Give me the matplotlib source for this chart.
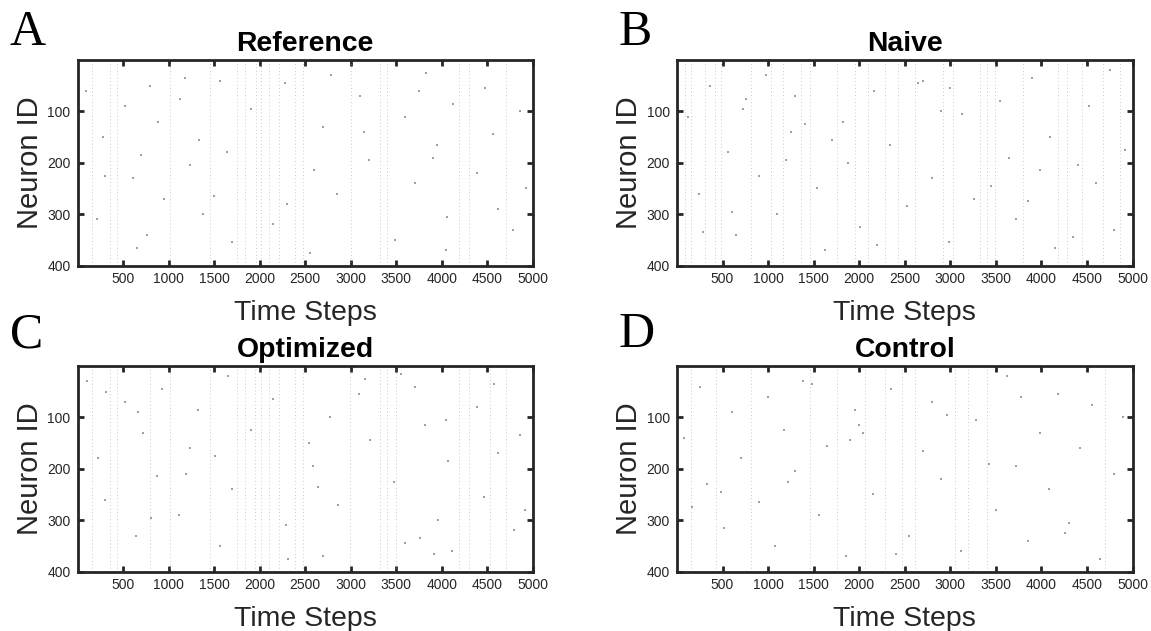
import matplotlib
matplotlib.use("Agg")
import matplotlib.pyplot as plt

plt.rcParams['font.family'] = ['Liberation Sans', 'DejaVu Sans']

titles = ["Reference", "Naive", "Optimized", "Control"]
letters = ["A", "B", "C", "D"]
x_ticks = [500, 1000, 1500, 2000, 2500, 3000, 3500, 4000, 4500, 5000]
y_ticks = [100, 200, 300, 400]

# time steps of the synchronous columns
bands_a = [157, 359, 432, 1018, 1450, 1751, 1842, 1963, 2018, 2099, 2209, 2392, 2473,
           3007, 3326, 3399, 4187, 4297, 4700, 4993]
bands_b = [84, 157, 304, 414, 487, 817, 1037, 1165, 1359, 1458, 1751, 1952, 2099, 2282,
           2421, 2612, 2923, 3033, 3326, 3399, 3491, 3802, 4187, 4279, 4443, 4681, 4864]
bands_c = [157, 359, 432, 799, 1018, 1450, 1751, 1842, 1952, 2018, 2099, 2209, 2392, 2473,
           2996, 3326, 3399, 3491, 4187, 4297, 4528, 4700, 4993]
bands_d = [157, 432, 817, 1458, 1751, 2062, 2282, 2473, 2612, 3051, 3190, 3399, 4700]

# the darker single spikes, estimated by eye (the faint ones can't be read one by one)
spike_t_a = [90, 210, 280, 520, 610, 700, 760, 880, 950, 1120, 1240, 1330, 1380, 1560, 1640,
             1700, 1900, 2150, 2280, 2600, 2700, 2780, 2850, 3100, 3200, 3480, 3600, 3700,
             3820, 3950, 4060, 4120, 4380, 4470, 4560, 4620, 4780, 4860, 4920, 650, 1180,
             2300, 2550, 3150, 3750, 4050, 300, 800, 1500, 3900]
spike_id_a = [60, 310, 150, 90, 230, 185, 340, 120, 270, 75, 205, 155, 300, 40, 180, 355, 95,
              320, 45, 215, 130, 30, 260, 70, 195, 350, 110, 240, 25, 165, 305, 85, 220, 55,
              145, 290, 330, 100, 250, 365, 35, 280, 375, 140, 60, 370, 225, 50, 265, 190]
spike_t_b = [120, 240, 360, 560, 650, 720, 900, 980, 1100, 1250, 1300, 1540, 1620, 1820, 1880,
             2010, 2160, 2340, 2520, 2700, 2800, 2990, 3130, 3260, 3550, 3640, 3720, 3900, 3980,
             4090, 4350, 4520, 4600, 4750, 4920, 600, 1400, 2200, 3000, 3850, 4400, 4800, 760,
             1700, 2650, 3450, 4150, 280, 1200, 2900]
spike_id_b = [110, 260, 50, 180, 340, 95, 225, 30, 300, 140, 70, 250, 370, 120, 200, 325, 60,
              165, 285, 40, 230, 355, 105, 270, 80, 190, 310, 35, 215, 150, 345, 90, 240, 20, 175,
              295, 125, 360, 55, 275, 205, 330, 75, 155, 45, 245, 365, 335, 195, 100]
spike_t_c = [100, 230, 300, 520, 640, 720, 870, 930, 1110, 1230, 1320, 1560, 1650, 1700, 1900,
             2150, 2290, 2580, 2690, 2770, 2860, 3090, 3210, 3470, 3590, 3700, 3810, 3960, 4070,
             4110, 4390, 4460, 4570, 4620, 4790, 4860, 4910, 660, 1190, 2310, 2540, 3160, 3760,
             4040, 310, 810, 1510, 3910, 2640, 3550]
spike_id_c = [30, 180, 260, 70, 330, 130, 215, 45, 290, 160, 85, 350, 20, 240, 125, 65, 310,
              195, 370, 100, 270, 55, 145, 225, 345, 40, 115, 300, 185, 360, 80, 255, 35, 170,
              320, 135, 280, 90, 210, 375, 150, 25, 335, 105, 50, 295, 175, 365, 235, 15]
spike_t_d = [80, 250, 330, 520, 600, 700, 900, 1000, 1080, 1180, 1300, 1380, 1560, 1650, 1850,
             1950, 2000, 2150, 2350, 2550, 2700, 2800, 2900, 3120, 3280, 3500, 3620, 3720, 3850,
             3980, 4080, 4180, 4300, 4420, 4550, 4640, 4800, 4900, 4960, 480, 1480, 1900, 2400,
             2960, 3420, 4260, 170, 1220, 2040, 3780]
spike_id_d = [140, 40, 230, 315, 90, 180, 265, 60, 350, 125, 205, 30, 290, 155, 370, 85, 115,
              250, 45, 330, 165, 70, 220, 360, 105, 280, 20, 195, 340, 130, 240, 55, 305, 160,
              75, 375, 210, 100, 300, 245, 35, 145, 365, 95, 190, 325, 275, 225, 130, 60]

bands = [bands_a, bands_b, bands_c, bands_d]
spike_t = [spike_t_a, spike_t_b, spike_t_c, spike_t_d]
spike_id = [spike_id_a, spike_id_b, spike_id_c, spike_id_d]

W, H = 1151, 631
lefts = [77.5, 677, 77.5, 677]
tops = [60, 60, 366, 366]
ax_w, ax_h = 455.5, 205.5
letter_x = [10, 619, 10, 619]
letter_y = [45, 45, 347, 347]
dark = '#262626'

fig = plt.figure(figsize=(W / 100, H / 100), dpi=100)

for i in range(4):
    ax = fig.add_axes([lefts[i] / W, 1 - (tops[i] + ax_h) / H, ax_w / W, ax_h / H])
    ax.vlines(bands[i], 0, 400, colors='#999999', linewidth=0.5, linestyles=(0, (1, 4)))
    ax.scatter(spike_t[i], spike_id[i], s=1.5, c='#a0a0a0', linewidths=0, marker='s')
    ax.set_xlim(0, 5000)
    ax.set_ylim(400, 0)
    ax.set_xticks(x_ticks)
    ax.set_yticks(y_ticks)
    ax.tick_params(direction='in', top=True, right=True, length=4, width=2,
                   labelsize=10, labelcolor=dark, color=dark, pad=5)
    for s in ax.spines.values():
        s.set_linewidth(2)
        s.set_color(dark)
    ax.set_title(titles[i], fontsize=20.4, fontweight='bold', color='black', pad=6.5)
    ax.set_xlabel("Time Steps", fontsize=20.5, color=dark, labelpad=9.5)
    ax.set_ylabel("Neuron ID", fontsize=21, color=dark, labelpad=2.5)
    fig.text(letter_x[i] / W, 1 - letter_y[i] / H, letters[i], fontsize=36,
             family='Liberation Serif', color='black', ha='left', va='baseline')

fig.savefig('out.png', dpi=100)
